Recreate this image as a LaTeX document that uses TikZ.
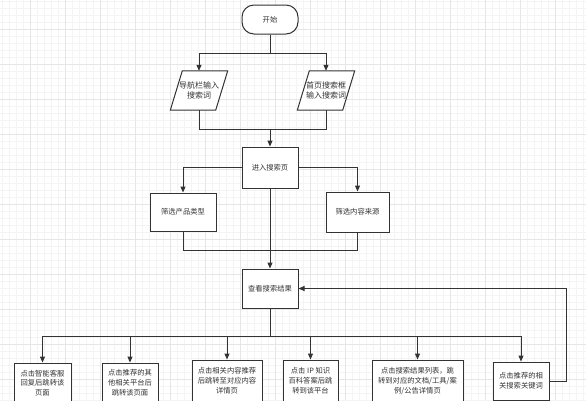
\documentclass[tikz,border=0pt]{standalone}
\usepackage{fontspec}
\newfontfamily\cjk{Noto Sans CJK SC}
\usetikzlibrary{arrows.meta,calc}
\definecolor{ln}{HTML}{333333}
\definecolor{gmin}{HTML}{F4F4F4}
\definecolor{gmaj}{HTML}{E6E6E6}
\tikzset{
  txt/.style={font=\cjk\fontsize{7.3}{9.8}\selectfont, text=ln, align=center, inner sep=0pt},
  box/.style={txt, draw=ln, line width=1pt, fill=white, rectangle},
  startbox/.style={box, rounded corners=12pt},
  paratxt/.style={txt, font=\cjk\fontsize{8}{10.5}\selectfont, minimum width=45pt, minimum height=39pt},
  para/.style={draw=ln, line width=1pt, fill=white},
  conn/.style={draw=ln, line width=1pt},
  arr/.style={conn, -{Triangle[length=6pt,width=5pt]}},
}
\begin{document}
\begin{tikzpicture}[x=1pt,y=-1pt]
\useasboundingbox (0,0) rectangle (586,400);
\fill[white] (0,0) rectangle (586,400);
% grid
\foreach \x in {2,9,...,586} \draw[gmin, line width=0.5pt] (\x,0) -- (\x,400);
\foreach \y in {1,8,...,400} \draw[gmin, line width=0.5pt] (0,\y) -- (586,\y);
\foreach \x in {30,65,...,586} \draw[gmaj, line width=0.6pt] (\x,0) -- (\x,400);
\foreach \y in {29,64,...,400} \draw[gmaj, line width=0.6pt] (0,\y) -- (586,\y);

% nodes
\node[startbox, minimum width=56pt, minimum height=29pt] (start) at (270,19.5) {开始};

\node[paratxt] (p1) at (199,90.5) {};
\draw[para] ($(p1.north west)+(6,0)$) -- ($(p1.north east)+(6,0)$) -- ($(p1.south east)+(-6,0)$) -- ($(p1.south west)+(-6,0)$) -- cycle;
\node[paratxt] at (p1) {导航栏输入\\搜索词};
\node[paratxt] (p2) at (326,90.5) {};
\draw[para] ($(p2.north west)+(6,0)$) -- ($(p2.north east)+(6,0)$) -- ($(p2.south east)+(-6,0)$) -- ($(p2.south west)+(-6,0)$) -- cycle;
\node[paratxt] at (p2) {首页搜索框\\输入搜索词};

\node[box, minimum width=56pt, minimum height=41pt] (search) at (270,167.5) {进入搜索页};
\node[box, minimum width=66pt, minimum height=38pt] (f1) at (183,212) {筛选产品类型};
\node[box, minimum width=63pt, minimum height=40pt] (f2) at (357.5,212) {筛选内容来源};
\node[box, minimum width=56pt, minimum height=39pt] (view) at (270,288.5) {查看搜索结果};

\node[box, minimum width=57pt, minimum height=40pt] (b1) at (42.5,383) {点击智能客服\\回复后跳转该\\页面};
\node[box, minimum width=56pt, minimum height=40pt] (b2) at (130,383) {点击推荐的其\\他相关平台后\\跳转该页面};
\node[box, minimum width=70pt, minimum height=42pt] (b3) at (227,381) {点击相关内容推荐\\后跳转至对应内容\\详情页};
\node[box, minimum width=55pt, minimum height=42pt] (b4) at (310.5,381) {点击 IP 知识\\百科答案后跳\\转到该平台};
\node[box, minimum width=91pt, minimum height=42pt] (b5) at (417.5,381) {点击搜索结果列表，跳\\转到对应的文档/工具/案\\例/公告详情页};
\node[box, minimum width=56pt, minimum height=38pt] (b6) at (521,381) {点击推荐的相\\关搜索关键词};

\coordinate (j1) at (270,129);
\coordinate (j2) at (270,250);
\coordinate (j3) at (270,336);
\coordinate (fb) at (566,381);

% connectors
\draw[arr] (start.south) -- ++(0,18.5) -| (p1.north);
\draw[arr] (start.south) -- ++(0,18.5) -| (p2.north);
\draw[conn] (p1.south) |- (j1);
\draw[conn] (p2.south) |- (j1);
\draw[arr] (j1) -- (search.north);
\draw[arr] (search.west) -| (f1.north);
\draw[arr] (search.east) -| (f2.north);
\draw[conn] (f1.south) |- (j2);
\draw[conn] (f2.south) |- (j2);
\draw[arr] (search.south) -- (view.north);
\draw[conn] (view.south) -- (j3);
\draw[arr] (j3) -| (b1.north);
\draw[arr] (j3) -| (b2.north);
\draw[arr] (j3) -| (b3.north);
\draw[arr] (j3) -| (b4.north);
\draw[arr] (j3) -| (b5.north);
\draw[arr] (j3) -| (b6.north);
\draw[arr] (b6.east) -- (fb) |- (view.east);
\end{tikzpicture}
\end{document}
